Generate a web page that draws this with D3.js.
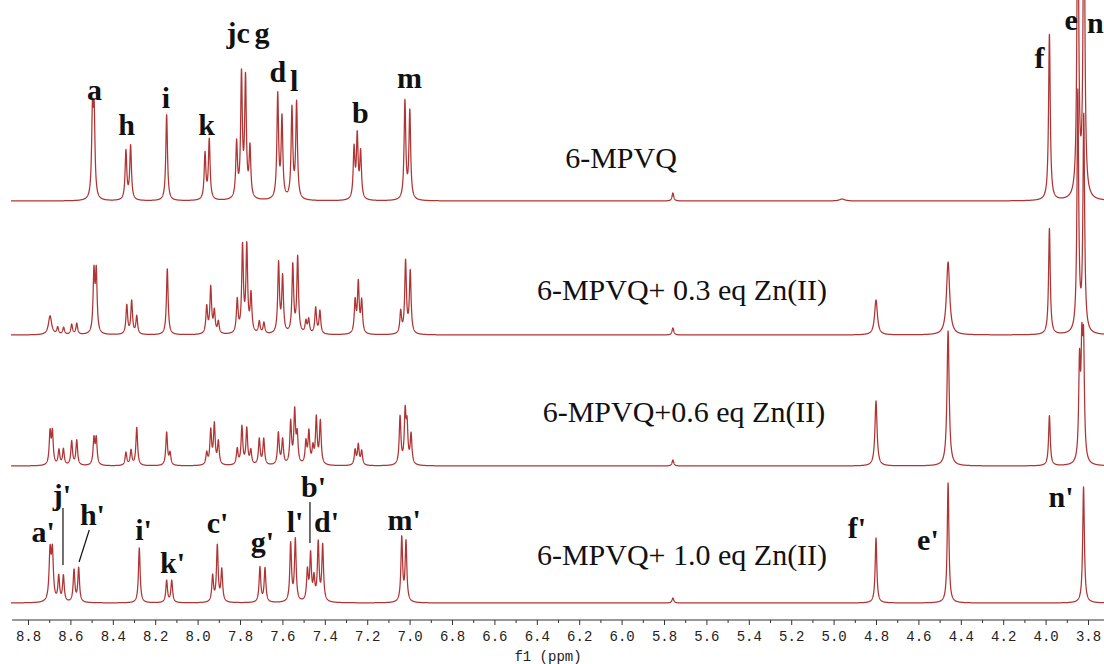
<!DOCTYPE html>
<html lang="en">
<head>
<meta charset="UTF-8">
<title>1H NMR titration of 6-MPVQ with Zn(II)</title>
<script src="https://cdnjs.cloudflare.com/ajax/libs/d3/7.8.5/d3.min.js"></script>
<style>
  body { margin: 0; background: #fff; }
  svg { display: block; }
  .series-label { font-family: "Liberation Serif", "Times New Roman", serif; font-size: 30px; fill: #111; }
  .peak-label { font-family: "Liberation Serif", "Times New Roman", serif; font-size: 30px; font-weight: bold; fill: #111; }
  .tick text { font-family: "Liberation Mono", monospace; font-size: 14px; fill: #222; }
</style>
</head>
<body>
<svg width="1104" height="664"></svg>
<script>
// peaks: [ppm, intensity, line width (ppm, optional)]
const peaksFree = [
  [8.496, 80], [8.488, 80],
  [8.338, 49], [8.316, 54],
  [8.146, 86],
  [7.965, 46], [7.945, 60],
  [7.816, 55], [7.793, 122], [7.774, 118], [7.753, 50],
  [7.622, 104], [7.602, 80],
  [7.555, 90], [7.533, 96],
  [7.262, 50], [7.247, 62], [7.231, 46],
  [7.022, 98], [6.999, 88],
  [5.758, 8],
  [4.96, 2, 0.03],
  [3.982, 166],
  [3.848, 330], [3.819, 340]
];
const peaks03 = [
  [8.696, 19, 0.018], [8.660, 7], [8.632, 7], [8.594, 10], [8.570, 11],
  [8.489, 60], [8.478, 60],
  [8.334, 29], [8.311, 33], [8.287, 18],
  [8.143, 66],
  [7.957, 27], [7.938, 46], [7.921, 22], [7.902, 12],
  [7.813, 33], [7.788, 86], [7.768, 86], [7.748, 38],
  [7.709, 12], [7.687, 11],
  [7.618, 70], [7.599, 56],
  [7.551, 68], [7.528, 76],
  [7.489, 12], [7.476, 14], [7.443, 26], [7.423, 23],
  [7.257, 32], [7.242, 50], [7.226, 32],
  [7.042, 22], [7.019, 72], [6.997, 62],
  [5.758, 7],
  [4.80, 35, 0.016], [4.46, 73, 0.018],
  [3.982, 106],
  [3.848, 240], [3.820, 215]
];
const peaks06 = [
  [8.696, 32], [8.685, 32], [8.654, 15], [8.633, 16], [8.594, 24], [8.570, 25],
  [8.489, 26], [8.478, 26],
  [8.338, 13], [8.314, 15], [8.287, 38],
  [8.146, 33], [8.130, 12],
  [7.957, 12], [7.938, 34], [7.921, 40], [7.902, 23],
  [7.813, 16], [7.791, 38], [7.768, 36], [7.749, 14],
  [7.709, 26], [7.688, 26],
  [7.619, 32], [7.599, 25],
  [7.561, 42], [7.542, 52], [7.530, 28],
  [7.489, 22], [7.475, 32], [7.456, 16],
  [7.440, 46], [7.421, 43],
  [7.257, 15], [7.242, 20], [7.226, 14],
  [7.045, 48], [7.021, 50], [7.012, 36], [6.993, 30],
  [5.758, 6],
  [4.80, 65, 0.012], [4.46, 135, 0.012],
  [3.982, 50],
  [3.840, 95], [3.829, 100], [3.821, 108]
];
const peaks10 = [
  [8.696, 48, 0.011], [8.685, 48, 0.011], [8.655, 25], [8.633, 26], [8.583, 32], [8.561, 34],
  [8.275, 55],
  [8.146, 22], [8.122, 22],
  [7.929, 26], [7.907, 56], [7.886, 32],
  [7.706, 35], [7.682, 34],
  [7.561, 58], [7.539, 62],
  [7.482, 30], [7.467, 46], [7.451, 22],
  [7.431, 58], [7.410, 56],
  [7.037, 64], [7.017, 60],
  [5.758, 5],
  [4.80, 65], [4.46, 120],
  [3.821, 116]
];

const seriesNames = ["6-MPVQ", "6-MPVQ+ 0.3 eq Zn(II)", "6-MPVQ+0.6 eq Zn(II)", "6-MPVQ+ 1.0 eq Zn(II)"];
const majorTicks = [8.8, 8.6, 8.4, 8.2, 8.0, 7.8, 7.6, 7.4, 7.2, 7.0, 6.8, 6.6, 6.4, 6.2, 6.0,
  5.8, 5.6, 5.4, 5.2, 5.0, 4.8, 4.6, 4.4, 4.2, 4.0, 3.8];

// peak assignments: [text, ppm, intensity above own baseline]
const labelsFree = [
  ["a", 8.486, 101], ["h", 8.335, 66], ["i", 8.149, 93], ["k", 7.958, 66],
  ["jc", 7.809, 158], ["g", 7.696, 158], ["d", 7.621, 119], ["l", 7.545, 110],
  ["b", 7.232, 78], ["m", 7.0, 113], ["f", 4.029, 133], ["e", 3.88, 171], ["n", 3.765, 168]
];
const labelsZn = [
  ["a'", 8.729, 61], ["j'", 8.64, 98], ["h'", 8.496, 78], ["i'", 8.255, 63],
  ["k'", 8.118, 30], ["c'", 7.906, 70], ["g'", 7.694, 51], ["l'", 7.54, 71],
  ["b'", 7.453, 106], ["d'", 7.392, 71], ["m'", 7.026, 73],
  ["f'", 4.89, 65], ["e'", 4.555, 53], ["n'", 3.927, 96]
];
// leader lines: [ppm1, int1, ppm2, int2]
const leadersZn = [
  [8.635, 95, 8.635, 38],
  [8.511, 73, 8.559, 41],
  [7.47, 101, 7.47, 60]
];

const svg = d3.select("svg");
const x = d3.scaleLinear().domain([8.8, 3.8]).range([28, 1088]);
const baselines = [201, 335, 466, 603];
const seriesLabelPos = [[621, 168], [682, 300], [684, 422], [682, 565]];
const spectra = [peaksFree, peaks03, peaks06, peaks10];

const grid = d3.range(8.88, 3.72, -0.0005);
function spectrum(peaks) {
  return grid.map(p => {
    let v = 0;
    for (const [p0, h, w] of peaks) {
      const g = (w || 0.0095) / 2;
      const t = (p - p0) / g;
      v += h / (1 + t * t);
    }
    return [p, v];
  });
}

spectra.forEach((peaks, i) => {
  const y = d3.scaleLinear().domain([0, 100]).range([baselines[i], baselines[i] - 100]);
  const line = d3.line().x(d => x(d[0])).y(d => y(d[1]));
  svg.append("path")
    .datum(spectrum(peaks))
    .attr("fill", "none")
    .attr("stroke", "#b03434")
    .attr("stroke-width", 1.25)
    .attr("stroke-linejoin", "round")
    .attr("d", line);

  svg.append("text")
    .attr("class", "series-label")
    .attr("x", seriesLabelPos[i][0])
    .attr("y", seriesLabelPos[i][1])
    .attr("text-anchor", "middle")
    .text(seriesNames[i]);
});

function drawLabels(labels, base) {
  const y = d3.scaleLinear().domain([0, 100]).range([base, base - 100]);
  svg.selectAll(null)
    .data(labels)
    .enter().append("text")
    .attr("class", "peak-label")
    .attr("x", d => x(d[1]))
    .attr("y", d => y(d[2]))
    .attr("text-anchor", "middle")
    .text(d => d[0]);
  return y;
}
drawLabels(labelsFree, baselines[0]);
const y4 = drawLabels(labelsZn, baselines[3]);
svg.selectAll(null)
  .data(leadersZn)
  .enter().append("line")
  .attr("x1", d => x(d[0])).attr("y1", d => y4(d[1]))
  .attr("x2", d => x(d[2])).attr("y2", d => y4(d[3]))
  .attr("stroke", "#111")
  .attr("stroke-width", 1.2);

// x axis
const axisY = 620;
svg.append("line")
  .attr("x1", x(8.875)).attr("x2", x(3.72))
  .attr("y1", axisY).attr("y2", axisY)
  .attr("stroke", "#333").attr("stroke-width", 1);

const minorTicks = majorTicks.slice(0, -1).map(d => +(d - 0.1).toFixed(1));
svg.append("g")
  .attr("transform", `translate(0,${axisY})`)
  .call(d3.axisBottom(x).tickValues(minorTicks).tickSize(3).tickFormat(""))
  .call(g => g.select(".domain").remove())
  .call(g => g.selectAll("line").attr("stroke", "#333"));
svg.append("g")
  .attr("transform", `translate(0,${axisY})`)
  .call(d3.axisBottom(x).tickValues(majorTicks).tickSize(5).tickPadding(6).tickFormat(d3.format(".1f")))
  .call(g => g.select(".domain").remove())
  .call(g => g.selectAll("line").attr("stroke", "#333"));

svg.append("text")
  .attr("x", 548)
  .attr("y", 661)
  .attr("text-anchor", "middle")
  .style("font-family", "Liberation Mono, monospace")
  .style("font-size", "14px")
  .style("fill", "#222")
  .text("f1 (ppm)");
</script>
</body>
</html>
